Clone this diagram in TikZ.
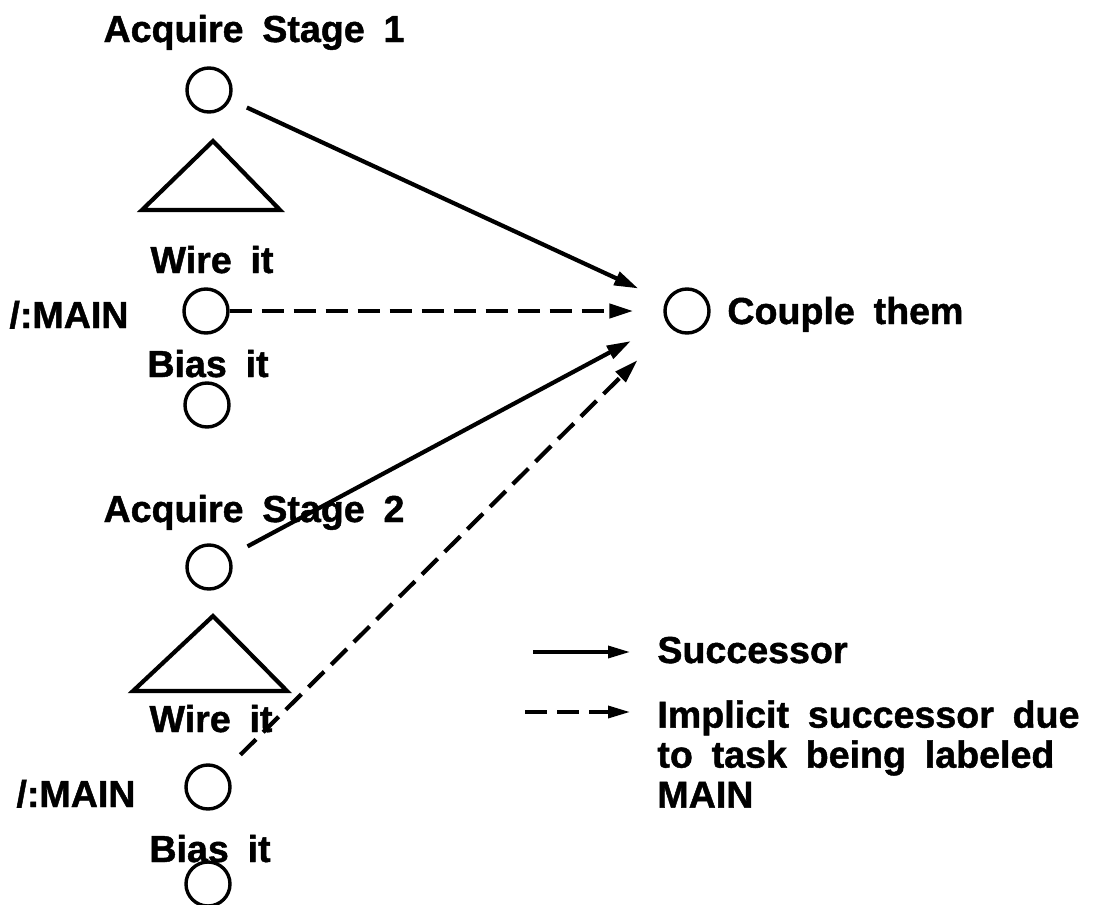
\documentclass[tikz,border=0pt]{standalone}
\usepackage{fontspec}
\setmainfont{Liberation Sans}[WordSpace=1.8, FakeBold=1.2]
\usetikzlibrary{arrows.meta, positioning}
\tikzset{>={Triangle[length=12pt,width=7pt]}}

\begin{document}
\begin{tikzpicture}[x=0.5pt, y=-0.5pt,
	task/.style={draw, circle, line width=1.7pt, minimum size=22pt, inner sep=0pt},
	lbl/.style={inner sep=0pt, anchor=base, font=\fontsize{18.8}{20}\selectfont\bfseries},
	succ/.style={->, line width=2.1pt},
	impl/.style={->, line width=2.1pt, dash pattern=on 11pt off 5pt}]

				\useasboundingbox (0,0) rectangle (1094,905);

				% stage 1
				\node [task] (acq1) at (209,90) {};
				\node [lbl] (tacq1) at (254,42) {Acquire Stage 1};
				\draw [line width=2.1pt] (213,141) -- (142,210) -- (280,210) -- cycle;
				\node [lbl] (twire1) at (212,273) {Wire it};
				\node [task] (wire1) at (206,311) {};
				\node [lbl] (tmain1) at (69,328) {/:MAIN};
				\node [lbl] (tbias1) at (208,377) {Bias it};
				\node [task] (bias1) at (207,405) {};

				% stage 2
				\node [task] (acq2) at (209,567) {};
				\node [lbl] (tacq2) at (254,522) {Acquire Stage 2};
				\draw [line width=2.1pt] (213,616) -- (133,691) -- (287,691) -- cycle;
				\node [lbl] (twire2) at (211,732) {Wire it};
				\node [task] (wire2) at (208,787) {};
				\node [lbl] (tmain2) at (76,807) {/:MAIN};
				\node [lbl] (tbias2) at (210,862) {Bias it};
				\node [task] (bias2) at (208,884) {};

				% target
				\node [task] (cpl) at (687,311) {};
				\node [lbl, anchor=base west] (tcpl) at (727,324) {Couple them};

				\draw [succ, shorten <=9pt, shorten >=15pt] (acq1) -- (cpl);
				\draw [impl, shorten >=15pt] (wire1) -- (cpl);
				\draw [succ, shorten <=10pt, shorten >=20pt] (acq2) -- (cpl);
				\draw [impl, shorten <=11pt, shorten >=23pt] (wire2) -- (cpl);

				% legend
				\coordinate (lg1) at (533,652);
				\coordinate (lg1e) at (630,652);
				\coordinate (lg2) at (525,712);
				\coordinate (lg2e) at (630,712);
				\draw [succ, line width=1.7pt, -{Triangle[length=11pt,width=6pt]}] (lg1) -- (lg1e);
				\draw [impl, line width=1.7pt, -{Triangle[length=11pt,width=6pt]}] (lg2) -- (lg2e);
				\node [lbl, anchor=base west] (tsucc) at (657,663) {Successor};
				\node [lbl, anchor=north west, align=left] (timpl) at (657,700) {Implicit successor due\\to task being labeled\\MAIN};
\end{tikzpicture}
\end{document}
